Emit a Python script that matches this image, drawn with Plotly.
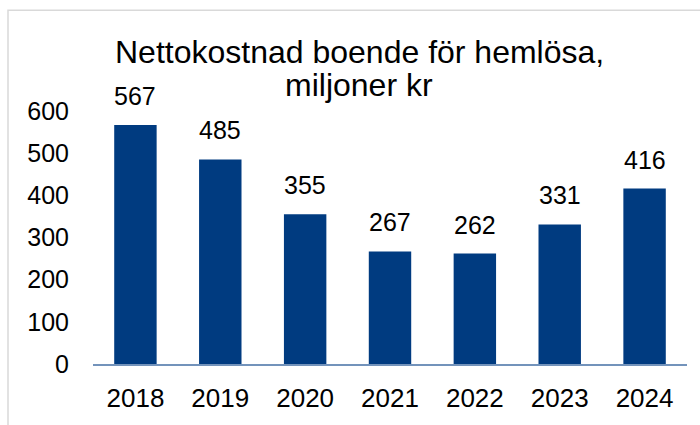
import plotly.graph_objects as go

years = ["2018", "2019", "2020", "2021", "2022", "2023", "2024"]
values = [567, 485, 355, 267, 262, 331, 416]
y_ticks = [0, 100, 200, 300, 400, 500, 600]
title_lines = ["Nettokostnad boende för hemlösa,", "miljoner kr"]

FONT = "Liberation Sans, Arial, sans-serif"
W, H = 700, 425
L, R, T, B = 93, 13, 111, 58
PH = H - T - B
PW = W - L - R


def py(pix):
    return (H - B - pix) / PH


def px(pix):
    return (pix - L) / PW


fig = go.Figure()
fig.add_trace(go.Bar(
    x=years, y=values,
    marker=dict(color="#003b80", line=dict(width=0)),
    width=0.5,
    hoverinfo="skip",
))

for i, v in enumerate(values):
    fig.add_annotation(x=i, y=v, text=str(v), showarrow=False,
                       xref="x", yref="y",
                       yanchor="middle", yshift=29,
                       font=dict(family=FONT, size=25, color="#000000"))

for txt, cy in zip(title_lines, [51, 85]):
    fig.add_annotation(xref="paper", yref="paper", x=px(359), y=py(cy),
                       text=txt, showarrow=False, xanchor="center", yanchor="middle",
                       font=dict(family=FONT, size=32, color="#000000"))

fig.update_layout(
    width=W, height=H,
    margin=dict(l=L, r=R, t=T, b=B),
    paper_bgcolor="white", plot_bgcolor="white",
    showlegend=False,
    xaxis=dict(
        type="category", range=[-0.5, len(years) - 0.5], autorange=False,
        showline=True, linecolor="#7393bb", linewidth=2,
        ticks="outside", ticklen=10, tickcolor="rgba(0,0,0,0)",
        tickfont=dict(family=FONT, size=26, color="#000000"),
        showgrid=False, zeroline=False,
    ),
    yaxis=dict(
        range=[0, 600], autorange=False, tickvals=y_ticks,
        showgrid=False, zeroline=False, showline=False,
        ticks="outside", ticklen=18, tickcolor="rgba(0,0,0,0)",
        tickfont=dict(family=FONT, size=25, color="#000000"),
    ),
    shapes=[dict(type="rect", xref="paper", yref="paper",
                 x0=px(8), x1=px(760), y0=py(480), y1=py(9),
                 line=dict(color="#d9d9d9", width=1.5), layer="below")],
)

fig.write_html("out.html")
